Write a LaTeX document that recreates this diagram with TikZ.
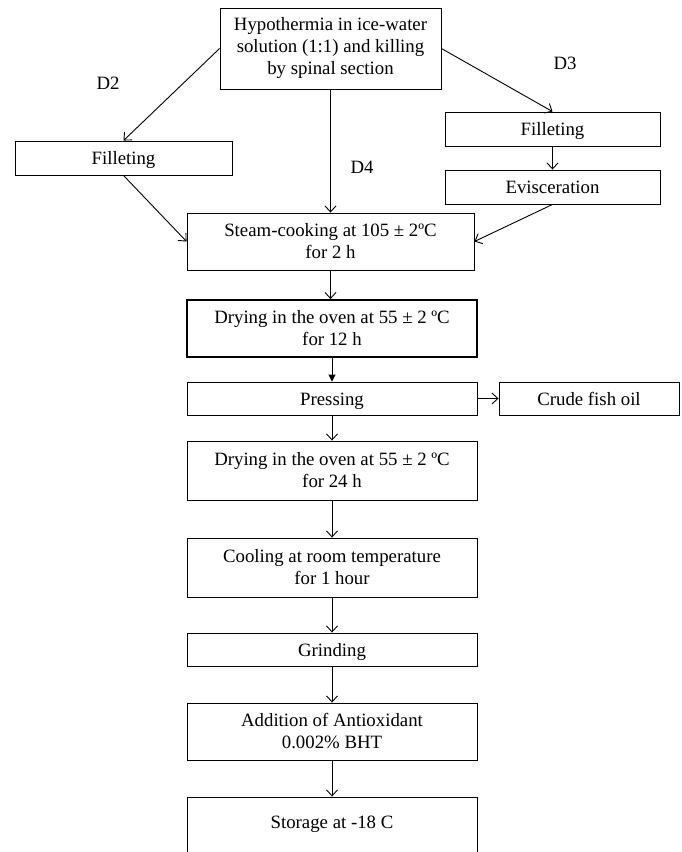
\documentclass[tikz,border=0pt]{standalone}
\usepackage{fontspec}
\setmainfont{Liberation Serif}
\usetikzlibrary{arrows.meta}
\begin{document}
\begin{tikzpicture}[x=1pt,y=-1pt,
  line width=0.9pt,
  box/.style={draw, line width=0.9pt, inner sep=0pt, align=center,
    font=\fontsize{18.8}{22}\selectfont},
  onebox/.style={box, text height=16pt, text depth=2.6pt},
  lbl/.style={inner sep=0pt, font=\fontsize{18.8}{22}\selectfont},
  >={Straight Barb[length=6pt,width=11pt]},
  solid tip/.style={-{Triangle[length=7pt,width=7pt]}}]
\useasboundingbox (0,0) rectangle (682,852);
\clip (0,0) rectangle (682,852);
\node[box, minimum width=221pt, minimum height=81pt] (hyp) at (330.5,48.5)
  {Hypothermia in ice-water\\solution (1:1) and killing\\by spinal section};
\node[onebox, minimum width=217pt, minimum height=34pt] (fl) at (123.5,158) {Filleting};
\node[onebox, minimum width=215pt, minimum height=34pt] (fr) at (552.5,129) {Filleting};
\node[onebox, minimum width=215pt, minimum height=34pt] (ev) at (552.5,187) {Evisceration};
\node[box, minimum width=287pt, minimum height=57pt] (steam) at (330.5,241.5)
  {Steam-cooking at 105 ± 2ºC\\for 2 h};
\node[box, line width=1.8pt, minimum width=290pt, minimum height=57pt] (dry1) at (332,328.5)
  {Drying in the oven at 55 ± 2 ºC\\for 12 h};
\node[onebox, minimum width=290pt, minimum height=33pt] (press) at (332,398.5) {Pressing};
\node[onebox, minimum width=180pt, minimum height=33pt] (oil) at (589,398.5) {Crude fish oil};
\node[box, minimum width=290pt, minimum height=59pt] (dry2) at (332,470.5)
  {Drying in the oven at 55 ± 2 ºC\\for 24 h};
\node[box, minimum width=290pt, minimum height=59pt] (cool) at (332,567.5)
  {Cooling at room temperature\\for 1 hour};
\node[onebox, minimum width=290pt, minimum height=33pt] (grind) at (332,649.5) {Grinding};
\node[box, minimum width=290pt, minimum height=57pt] (add) at (332,731.5)
  {Addition of Antioxidant\\0.002\% BHT};
\node[box, minimum width=290pt, minimum height=70pt] (store) at (332,832) {};
\node[lbl] (storetxt) at (332,824) {Storage at -18 C};
\node[lbl] (d2) at (108,83) {D2};
\node[lbl] (d3) at (565,63) {D3};
\node[lbl] (d4) at (362,167) {D4};
\draw[->] (hyp.west) -- (fl.north);
\draw[->] (hyp.east) -- (fr.north);
\draw[->] (hyp.south) -- (steam.north);
\draw[->] (fr.south) -- (ev.north);
\draw[->] (fl.south) -- (steam.west);
\draw[->] (ev.south) -- (steam.east);
\draw[->] (steam.south) -- (steam.south |- dry1.north);
\draw[solid tip] (dry1.south) -- (press.north);
\draw[->] (press.east) -- (oil.west);
\draw[->] (press.south) -- (dry2.north);
\draw[->] (dry2.south) -- (cool.north);
\draw[->] (cool.south) -- (grind.north);
\draw[->] (grind.south) -- (add.north);
\draw[->] (add.south) -- (store.north);
\end{tikzpicture}
\end{document}
